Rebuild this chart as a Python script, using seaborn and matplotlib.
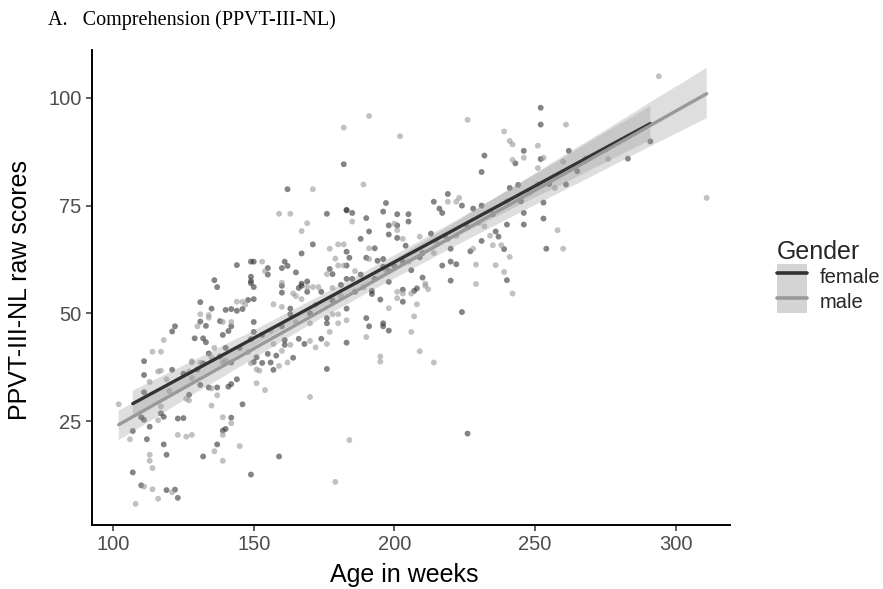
import numpy as np
import pandas as pd
import matplotlib
matplotlib.use("Agg")
import matplotlib.pyplot as plt
import seaborn as sns
from matplotlib.patches import Patch
from matplotlib.lines import Line2D

# ---------------- data ----------------
female_age = [182,162,197,183,
    252,252,246,232,243,252,231,241,244,261,214,219,224,228,231,253,216,
    262,291,283,
    144,136,137,149,149,149,131,148,135,140,142,144,146,131,138,133,142,141,139,122,121,129,132,133,140,134,149,111,
    111,121,132,142,144,142,141,137,134,131,127,111,146,117,118,110,111,123,125,142,113,107,112,139,140,118,137,119,132,107,149,110,119,122,123,
    150,153,156,157,176,159,
    226,
    176,183,185,190,196,205,205,198,191,198,188,171,183,193,204,167,150,161,162,184,183,190,194,196,196,155,155,160,165,177,178,188,198,149,150,160,167,167,166,169,181,183,185,174,169,160,150,192,192,195,198,203,163,163,183,176,176,190,191,196,196,198,150,150,166,168,174,161,161,183,155,158,164,151,
    217,201,201,201,213,240,246,246,253,236,237,231,239,220,227,254,209,203,220,222,217,206,210,220,240,203,207,208,224,
    125,130,138,145,153,160,170,178,186,193,200,210,218,226,235,245,255,265,275]
female_score = [84.6,78.8,75.6,74.0,
    97.7,93.8,87.7,86.6,84.8,85.8,82.8,79.1,79.8,79.9,75.9,77.7,75.0,74.3,75.0,75.7,74.3,
    87.7,89.9,85.9,
    61.2,57.7,56.1,62.0,58.5,57.5,52.6,53.1,51.1,50.8,51.0,50.6,51.0,48.1,48.2,47.1,47.0,45.9,45.0,47.0,45.8,44.2,44.2,43.3,42.0,40.7,44.0,38.9,
    35.7,36.9,38.4,38.6,34.7,33.6,33.0,32.8,32.8,33.4,31.1,31.7,28.9,26.8,26.0,25.9,25.3,25.6,25.7,25.8,23.7,22.7,20.8,22.8,23.2,19.6,19.6,17.2,16.8,13.1,12.6,10.1,9.0,9.1,7.2,
    38.7,38.5,38.6,36.9,37.1,16.8,
    22.1,
    73.1,73.9,73.3,72.1,73.6,73.0,71.3,70.4,69.0,68.3,67.3,66.0,64.3,65.1,65.7,63.9,62.0,62.0,61.0,62.9,61.1,62.9,62.2,62.6,60.8,60.5,59.0,60.5,59.5,60.3,59.1,59.0,59.8,57.0,56.1,56.4,56.9,56.4,55.9,57.4,56.6,58.0,58.0,55.0,55.0,54.8,53.3,55.2,54.5,53.2,57.3,52.7,51.1,49.8,51.1,48.9,47.7,48.9,47.0,47.7,47.0,46.0,48.0,45.7,44.1,42.9,44.1,43.8,42.7,43.2,40.6,40.2,39.7,39.8,
    73.3,73.0,70.4,67.5,68.5,70.6,73.3,70.6,72.0,69.0,67.8,66.8,64.9,65.0,64.4,65.0,63.0,62.0,62.0,61.4,61.1,60.0,58.3,57.6,57.7,55.5,55.2,55.8,50.3,
    36.0,37.0,40.0,42.0,45.0,47.0,50.0,53.0,55.0,58.0,61.0,64.0,68.0,70.0,73.0,76.0,80.0,83.0,88.0]

male_age = [191,182,202,171,189,
    226,261,239,241,242,251,242,246,253,251,260,257,251,223,219,222,
    294,276,311,
    144,146,147,131,134,134,139,142,130,118,114,117,136,128,131,135,
    117,116,113,119,127,128,139,151,135,137,126,127,102,135,117,116,139,142,106,123,126,128,139,136,145,113,113,139,114,111,114,121,116,108,
    152,159,162,195,151,154,170,184,179,149,
    214,
    159,163,185,169,167,200,203,177,180,182,191,153,179,180,182,191,154,176,186,160,169,171,173,178,164,165,167,157,203,206,198,160,178,180,180,183,170,177,190,170,157,163,172,176,160,195,
    201,209,215,219,232,258,234,235,238,228,241,260,229,236,211,211,212,239,229,242,201,201,208,207,206,209,
    120,128,140,148,156,165,172,181,189,197,205,214,222,230,240,248,258,268]
male_score = [95.8,93.1,91.1,78.8,79.9,
    94.9,93.8,92.2,90.0,89.2,88.9,85.6,86.1,86.1,83.7,85.2,79.1,80.0,76.8,75.9,75.9,
    105.0,85.8,76.8,
    52.7,52.7,52.0,49.8,49.6,49.0,48.0,48.0,47.0,43.8,41.1,41.1,42.0,38.9,38.5,39.8,
    36.7,36.5,34.1,34.7,36.5,38.6,38.6,37.0,32.6,31.0,30.2,29.8,28.9,28.6,28.4,25.2,25.9,24.5,20.8,21.8,21.4,21.8,21.8,18.0,19.2,17.2,15.8,15.8,14.1,9.8,9.2,8.5,7.0,5.8,
    36.7,37.8,38.6,38.8,33.8,32.2,30.6,20.6,10.9,38.4,
    38.6,
    73.1,73.1,71.3,70.9,69.1,70.8,67.3,65.0,66.0,66.0,65.1,62.0,62.7,61.1,61.1,62.6,59.8,59.1,59.8,57.1,56.1,56.1,56.1,55.9,54.6,54.0,53.3,52.1,54.6,54.6,51.2,51.5,49.8,49.8,47.7,48.4,47.7,45.7,44.5,43.6,42.9,42.7,42.1,42.9,41.3,40.0,
    69.3,67.8,66.5,67.2,70.2,69.3,68.0,65.8,65.8,65.0,63.1,65.0,61.3,61.2,56.9,56.4,55.6,59.6,56.8,54.6,55.0,53.5,52.1,49.3,45.7,41.2,
    32.0,35.0,39.0,41.0,46.0,48.0,52.0,54.0,56.0,60.0,62.0,64.0,68.0,71.0,76.0,78.0,82.0,86.0]

genders = ["female", "male"]
x_ticks = [100, 150, 200, 250, 300]
y_ticks = [25, 50, 75, 100]
title = "A.   Comprehension (PPVT-III-NL)"

df = pd.DataFrame({
    "age": female_age + male_age,
    "score": female_score + male_score,
    "Gender": ["female"] * len(female_age) + ["male"] * len(male_age),
})

line_col = {"female": "#333333", "male": "#999999"}

# ---------------- figure ----------------
sns.set_theme(style="ticks")
plt.rcParams["font.family"] = ["Liberation Sans", "DejaVu Sans"]

fig = plt.figure(figsize=(8.83, 5.89), dpi=100)
ax = fig.add_axes([92 / 883, 1 - 525 / 589, (730 - 92) / 883, (525 - 50) / 589])

sns.scatterplot(data=df, x="age", y="score", hue="Gender", hue_order=genders,
                palette=line_col, alpha=0.6, s=18, edgecolor="none",
                legend=False, ax=ax, zorder=2)

for g in genders:
    sub = df[df["Gender"] == g]
    n_before = len(ax.collections)
    sns.regplot(data=sub, x="age", y="score", scatter=False, ci=95, seed=1,
                color=line_col[g], line_kws={"lw": 2.4, "zorder": 4}, ax=ax)
    for coll in ax.collections[n_before:]:
        coll.set_facecolor("#999999")
        coll.set_alpha(0.32)
        coll.set_edgecolor("none")
        coll.set_zorder(3)

ax.set_xlim(92.5, 319.3)
ax.set_ylim(0.9, 111.1)
ax.set_xticks(x_ticks)
ax.set_yticks(y_ticks)
ax.set_xlabel("Age in weeks", fontsize=18, color="black")
ax.set_ylabel("PPVT-III-NL raw scores", fontsize=18, color="black")
ax.xaxis.label.set_va("center")
ax.yaxis.label.set_va("center")
ax.xaxis.set_label_coords(0.489, (525 - 575) / 475)
ax.yaxis.set_label_coords((20 - 92) / 638, 0.495)
ax.tick_params(axis="both", labelsize=14.5, labelcolor="#4d4d4d", color="#333333",
               length=4, width=1.1, pad=3.5)
for side in ["left", "bottom"]:
    ax.spines[side].set_linewidth(1.4)
    ax.spines[side].set_color("black")
sns.despine(ax=ax)

fig.text(48 / 883, 1 - 20 / 589, title, fontsize=14.5, va="center", ha="left",
         family=["Liberation Serif", "DejaVu Serif"], color="black")

handles = [(Patch(facecolor="#d4d4d4", edgecolor="none"),
            Line2D([], [], color=line_col[g], lw=2.6)) for g in genders]
leg = fig.legend(handles, genders, title="Gender", loc="upper left",
                 bbox_to_anchor=(773 / 883, 1 - 236 / 589), frameon=False,
                 fontsize=14.5, title_fontsize=18, handlelength=1.5,
                 handleheight=1.5, labelspacing=0.0, handletextpad=0.6,
                 borderaxespad=0, borderpad=0.2, alignment="left")

fig.savefig("out.png", dpi=100)
